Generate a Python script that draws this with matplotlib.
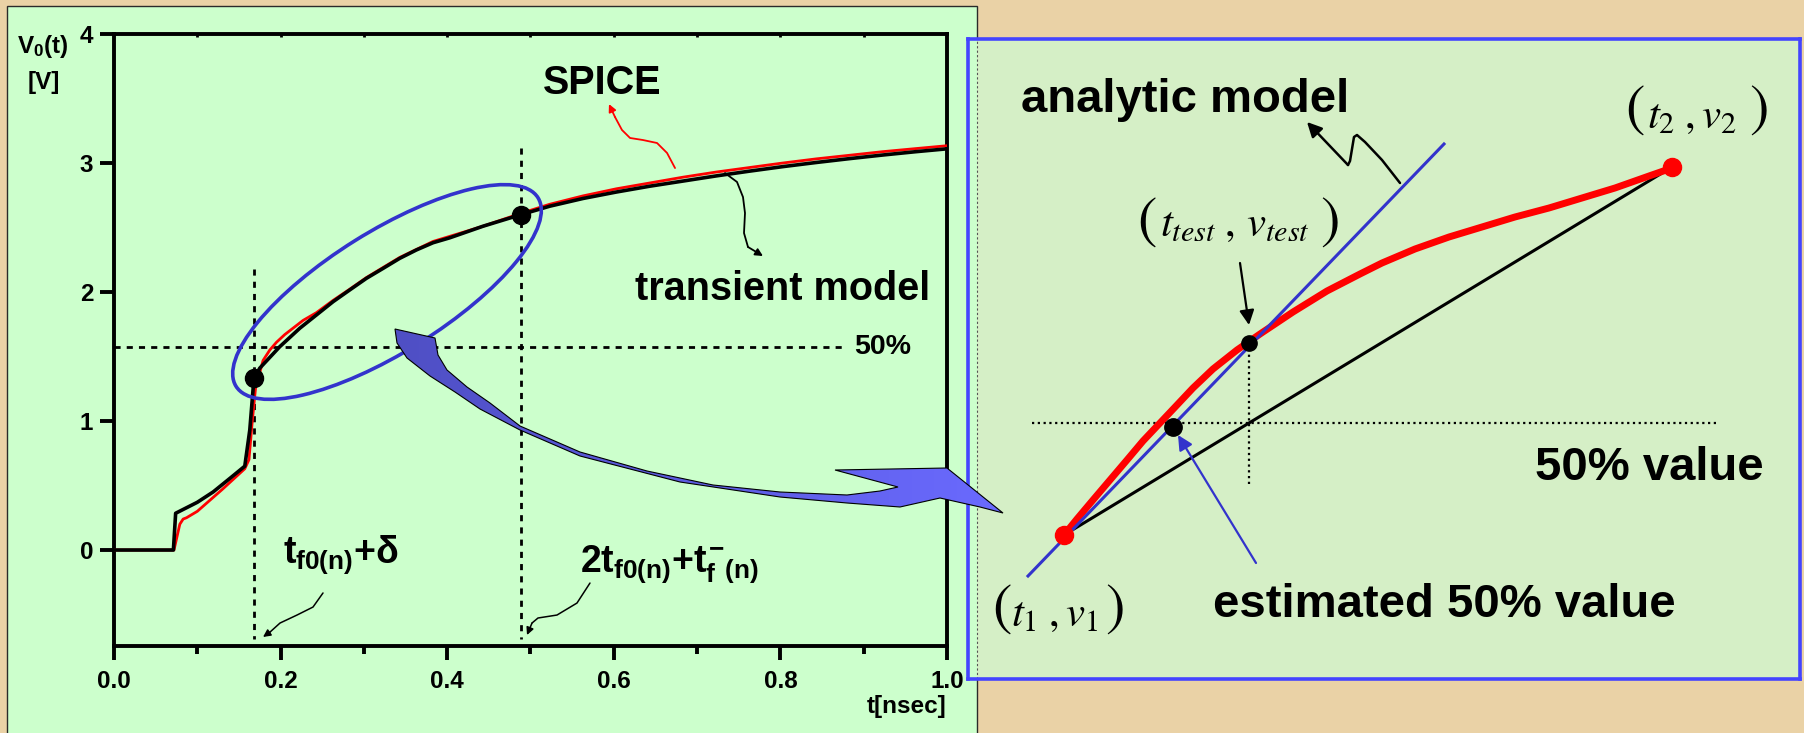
import numpy as np
import matplotlib.pyplot as plt
from matplotlib.colors import LinearSegmentedColormap
from matplotlib.patches import Ellipse, Polygon, Rectangle

W, H = 1804, 733

plt.rcParams['font.family'] = ['Liberation Sans', 'DejaVu Sans']
plt.rcParams['mathtext.fontset'] = 'custom'
plt.rcParams['mathtext.rm'] = 'Liberation Sans:bold'
plt.rcParams['mathtext.it'] = 'Liberation Sans:bold'
plt.rcParams['mathtext.bf'] = 'Liberation Sans:bold'

# output voltage of the gate (t in ns, V in volts)
spice_t = [0.0, 0.072, 0.079, 0.083, 0.087, 0.10, 0.13, 0.157, 0.162, 0.166, 0.170, 0.179,
           0.187, 0.195, 0.205, 0.215, 0.227, 0.243, 0.263, 0.283, 0.303, 0.343, 0.383,
           0.443, 0.4886, 0.523, 0.563, 0.603, 0.643, 0.683, 0.723, 0.763, 0.803, 0.843,
           0.883, 0.923, 0.963, 1.0]
spice_v = [0.0, 0.0, 0.20, 0.24, 0.25, 0.30, 0.47, 0.63, 0.70, 1.00, 1.26, 1.47,
           1.55, 1.61, 1.67, 1.72, 1.78, 1.84, 1.935, 2.022, 2.112, 2.268, 2.392,
           2.51, 2.61, 2.68, 2.745, 2.80, 2.845, 2.89, 2.93, 2.965, 3.0, 3.032,
           3.06, 3.088, 3.112, 3.134]
model_t = [0.0, 0.0713, 0.074, 0.10, 0.119, 0.14, 0.157, 0.163, 0.168, 0.175, 0.199, 0.223,
           0.243, 0.263, 0.283, 0.303, 0.323, 0.343, 0.363, 0.383, 0.403, 0.443, 0.4886,
           0.523, 0.563, 0.603, 0.643, 0.683, 0.723, 0.763, 0.803, 0.843, 0.883, 0.923,
           0.963, 1.0]
model_v = [0.0, 0.0, 0.285, 0.37, 0.45, 0.56, 0.65, 0.93, 1.33, 1.41, 1.576, 1.719,
           1.822, 1.925, 2.016, 2.106, 2.183, 2.261, 2.326, 2.382, 2.42, 2.51, 2.60,
           2.665, 2.725, 2.775, 2.82, 2.86, 2.90, 2.937, 2.972, 3.004, 3.034, 3.062,
           3.088, 3.11]

# sample points t_f0(n)+delta and 2t_f0(n)+t_f-(n), and the 50% level
dot_t = [0.168, 0.4886]
dot_v = [1.333, 2.60]
dot_top = [2.18, 3.12]
half_v = 1.574
half_end = 0.878

xticks = [0.0, 0.2, 0.4, 0.6, 0.8, 1.0]
xticklabels = ['0.0', '0.2', '0.4', '0.6', '0.8', '1.0']
yticks = [0, 1, 2, 3, 4]
yticklabels = ['0', '1', '2', '3', '4']

# pointer paths for the labels (t, V)
spice_ptr_t = [0.6735, 0.6639, 0.6519, 0.6351, 0.6195, 0.6098, 0.6014, 0.5942]
spice_ptr_v = [2.961, 3.078, 3.155, 3.178, 3.194, 3.256, 3.357, 3.457]
model_ptr_t = [0.7335, 0.7479, 0.7551, 0.7575, 0.7563, 0.7611, 0.7791]
model_ptr_v = [2.922, 2.853, 2.736, 2.612, 2.457, 2.349, 2.279]
t1_ptr_t = [0.2509, 0.2389, 0.2197, 0.1993, 0.1873, 0.1789]
t1_ptr_v = [-0.333, -0.442, -0.504, -0.566, -0.636, -0.674]
t2_ptr_t = [0.5714, 0.5558, 0.5318, 0.5090, 0.5018, 0.4958]
t2_ptr_v = [-0.256, -0.411, -0.504, -0.527, -0.566, -0.659]

# schematic of the 50% estimate (arbitrary units)
curve_t = [96, 109, 125, 142, 159, 175, 192, 209, 225, 245, 269, 292, 325, 359, 392,
           414, 447, 481, 514, 547, 581, 614, 647, 681, 704]
curve_v = [144, 160, 179, 199, 219, 238, 256, 274, 291, 310, 329, 345, 367, 388, 405,
           416, 430, 442, 452, 462, 471, 481, 491, 503, 511]
ends_t = [96, 704]
ends_v = [144, 512]
tangent_t = [60, 476]
tangent_v = [103, 535]
test_t, test_v = 281, 336
est_t, est_v = 205, 252
level_v = 256
level_t = [64, 749]
sq_t = [432, 414, 397, 389, 386, 384, 382, 380, 339]
sq_v = [496, 519, 537, 544, 542, 530, 518, 514, 557]

# curved callout arrow (figure pixels, y down)
callout = [(835, 470), (947, 468), (1003, 513), (980, 507), (940, 498),
           (900, 507), (847, 503), (780, 497), (680, 482), (580, 456), (520, 430),
           (480, 409), (455, 392), (430, 376), (407, 358), (397, 343), (395, 329),
           (435, 338), (438, 355), (447, 370), (467, 387), (490, 403), (520, 426),
           (580, 452), (647, 471), (713, 485), (780, 492), (847, 495), (880, 491),
           (898, 487)]

fig = plt.figure(figsize=(W / 100, H / 100), dpi=100, facecolor='#EAD2A6')

bg = fig.add_axes([0, 0, 1, 1], zorder=0)
bg.set_xlim(0, W)
bg.set_ylim(H, 0)
bg.axis('off')
bg.add_patch(Rectangle((7, 6), 970, 740, fc='#CCFFCC', ec='#2a2a2a', lw=1.0))

# ---- left: voltage waveform
ax = fig.add_axes([114 / W, (H - 646) / H, 833 / W, 612 / H], zorder=2)
ax.set_facecolor('none')
ax.set_xlim(0, 1.0)
ax.set_ylim(-0.744, 4)
for s in ax.spines.values():
    s.set_linewidth(2.8)
ax.set_xticks(xticks)
ax.set_xticklabels(xticklabels, fontweight='bold')
ax.set_xticks([0.1, 0.3, 0.5, 0.7, 0.9], minor=True)
ax.set_yticks(yticks)
ax.set_yticklabels(yticklabels, fontweight='bold')
ax.tick_params(axis='x', which='major', direction='out', length=10, width=2.8,
               labelsize=17.5, pad=7)
ax.tick_params(axis='x', which='minor', direction='out', length=6, width=2.8)
ax.tick_params(axis='y', which='major', direction='out', length=10, width=2.8,
               labelsize=17.5, pad=5)
top = ax.secondary_xaxis('top')
top.set_xticks(np.arange(0.1, 1.0, 0.1))
top.tick_params(direction='in', length=2.5, width=2, labeltop=False)

ax.plot(spice_t, spice_v, color='#FF0000', lw=2.0, zorder=3)
ax.plot(model_t, model_v, color='black', lw=2.6, zorder=4)
ax.plot(dot_t, dot_v, 'o', color='black', ms=13, zorder=5)

dash = dict(color='black', lw=2.0, ls=(0, (2.2, 2.2)), zorder=2)
ax.plot([0, half_end], [half_v, half_v], **dash)
for t, vt in zip(dot_t, dot_top):
    ax.plot([t, t], [vt, -0.69], **dash)

bold = dict(fontweight='bold')
ax.text(0.888, half_v, '50%', fontsize=20.5, va='center', ha='left', **bold)
ax.text(0.515, 3.535, 'SPICE', fontsize=28.5, va='baseline', **bold)
ax.text(0.6255, 1.938, 'transient model', fontsize=28.5, va='baseline', **bold)
ax.text(0.203, -0.10, r'$t_{f0(n)}{+}\delta$', fontsize=27, va='baseline')
ax.text(0.559, -0.17, r'$2t_{f0(n)}{+}t_{f}^{-}{}_{(n)}$', fontsize=27, va='baseline')
ax.text(1.0, -1.264, 't[nsec]', fontsize=17.5, ha='right', va='baseline', **bold)
fig.text(43 / W, 1 - 47 / H, r'$V_0(t)$', fontsize=17.5, ha='center', va='center')
fig.text(44 / W, 1 - 82 / H, '[V]', fontsize=17.5, ha='center', va='center', **bold)


def pointer(axis, xs, ys, color, lw, scale):
    axis.plot(xs[:-1], ys[:-1], color=color, lw=lw, solid_capstyle='round', zorder=6)
    axis.annotate('', xy=(xs[-1], ys[-1]), xytext=(xs[-2], ys[-2]),
                  arrowprops=dict(arrowstyle='-|>', color=color, lw=lw,
                                  shrinkA=0, shrinkB=0, mutation_scale=scale),
                  zorder=6)


pointer(ax, spice_ptr_t, spice_ptr_v, '#FF0000', 1.3, 11)
pointer(ax, model_ptr_t, model_ptr_v, 'black', 1.3, 11)
pointer(ax, t1_ptr_t, t1_ptr_v, 'black', 1.1, 11)
pointer(ax, t2_ptr_t, t2_ptr_v, 'black', 1.1, 11)

# ---- right: estimate of the 50% point
rx = fig.add_axes([968 / W, (H - 679) / H, 832 / W, 640 / H], zorder=2)
rx.set_facecolor('#D5EFC6')
rx.set_xlim(0, 832)
rx.set_ylim(0, 640)
rx.set_xticks([])
rx.set_yticks([])
for s in rx.spines.values():
    s.set_color('#4444FF')
    s.set_linewidth(2.6)
rx.add_patch(Rectangle((0, 0), 9, 640, fc='#CCFFCC', ec='none'))
rx.plot([9, 9], [0, 640], color='#555555', lw=0.8, ls=(0, (2, 2)))

dots = dict(color='black', lw=1.6, ls=(0, (1, 1.6)))
rx.plot(level_t, [level_v, level_v], **dots)
rx.plot([test_t, test_t], [195, test_v], **dots)
rx.plot(ends_t, ends_v, color='black', lw=2.2)
rx.plot(curve_t, curve_v, color='#FF0000', lw=5, solid_capstyle='round',
        solid_joinstyle='round')
rx.plot(tangent_t, tangent_v, color='#3333CC', lw=2.2)
rx.plot(ends_t, ends_v, 'o', color='#FF0000', ms=13)
rx.plot([test_t], [test_v], 'o', color='black', ms=11)
rx.plot([est_t], [est_v], 'o', color='black', ms=12.5)

rx.annotate('', xy=(est_t + 5, est_v - 8), xytext=(288, 116),
            arrowprops=dict(arrowstyle='-|>', color='#3333CC', lw=1.6,
                            shrinkA=0, shrinkB=0, mutation_scale=22))
rx.annotate('', xy=(test_t, test_v + 18), xytext=(272, 416),
            arrowprops=dict(arrowstyle='-|>', color='black', lw=1.6,
                            shrinkA=0, shrinkB=0, mutation_scale=22))
pointer(rx, sq_t, sq_v, 'black', 1.8, 22)

rx.text(53, 567, 'analytic model', fontsize=34, va='baseline', **bold)
rx.text(796, 199, '50% value', fontsize=34, ha='right', va='baseline', **bold)
rx.text(245, 62, 'estimated 50% value', fontsize=34, va='baseline', **bold)


def point_label(x_left, x_right, x_mid, y_paren, y_mid, inner):
    paren = dict(fontsize=42, family='STIXGeneral', va='center')
    rx.text(x_left, y_paren, '(', ha='left', **paren)
    rx.text(x_right, y_paren, ')', ha='right', **paren)
    rx.text(x_mid, y_mid, inner, fontsize=31, ha='center', va='center',
            math_fontfamily='stix')


point_label(657, 801, 724, 567, 562, r'$t_2\;,v_2$')
point_label(169, 372, 267, 455, 454, r'$t_{test}\;,\,v_{test}$')
point_label(24, 157, 87, 68, 64, r'$t_1\;,v_1$')

# ---- overlay: ring round the rising edge and the callout arrow
fg = fig.add_axes([0, 0, 1, 1], zorder=5)
fg.set_facecolor('none')
fg.axis('off')
fg.add_patch(Ellipse((387, 292), 356, 121, angle=-32, fill=False, ec='#3333CC', lw=2.6))
shape = Polygon(callout, closed=True, fc='none', ec='black', lw=0.8, zorder=3)
fg.add_patch(shape)
shade = LinearSegmentedColormap.from_list('callout', ['#4F4FC4', '#6A6AFF'])
im = fg.imshow(np.linspace(0, 1, 256).reshape(1, -1), cmap=shade, aspect='auto',
               extent=(395, 1003, 513, 329), zorder=2)
im.set_clip_path(shape)
fg.set_xlim(0, W)
fg.set_ylim(H, 0)

fig.savefig('out.png', dpi=100, facecolor=fig.get_facecolor())
